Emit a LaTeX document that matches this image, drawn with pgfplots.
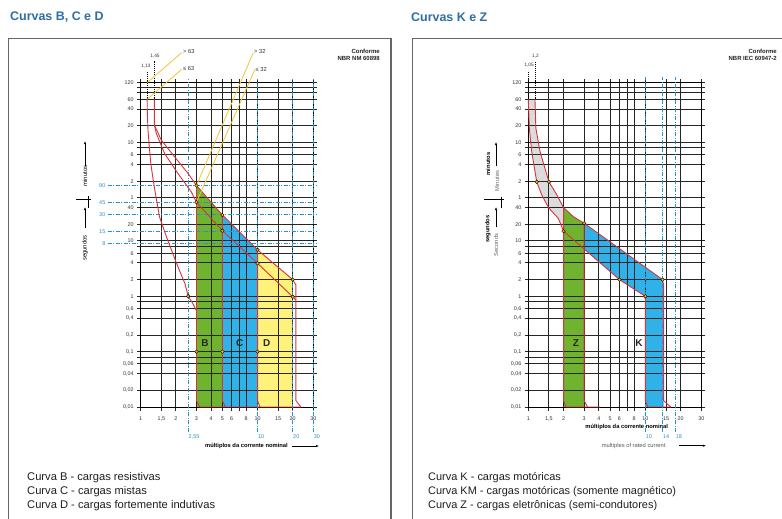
\documentclass[border=0pt]{standalone}
\usepackage{pgfplots}
\pgfplotsset{compat=1.18}
\usepackage{fontspec}
\setmainfont{Liberation Sans}
\usetikzlibrary{arrows.meta}
\definecolor{titleblue}{HTML}{2F6EA6}
\definecolor{gB}{HTML}{6FB32F}
\definecolor{bC}{HTML}{30B2E8}
\definecolor{yD}{HTML}{FFF27A}
\definecolor{redl}{HTML}{D8343C}
\definecolor{dotc}{HTML}{F5B50F}
\definecolor{ylabc}{HTML}{F2C53A}
\definecolor{dashblue}{HTML}{2A90D4}
\definecolor{bandgray}{HTML}{DCDCDC}
\definecolor{txt}{HTML}{333333}
\begin{document}
\begin{tikzpicture}
\path[use as bounding box] (0,0) rectangle (782bp,-519bp);
\fill[white] (0,0) rectangle (782bp,-519bp);
% panel frames
\draw[black!60, line width=1.2bp] (8.5bp,-519bp) -- (8.5bp,-38.5bp) -- (391bp,-38.5bp) -- (391bp,-519bp);
\draw[black!60, line width=1.2bp] (412.5bp,-519bp) -- (412.5bp,-38.5bp) -- (790bp,-38.5bp);
% titles
\node[anchor=west, inner sep=0, font=\bfseries\fontsize{12.5}{14}\selectfont, text=titleblue] at (10bp,-17.5bp) {Curvas B, C e D};
\node[anchor=west, inner sep=0, font=\bfseries\fontsize{12.5}{14}\selectfont, text=titleblue] at (411bp,-17.5bp) {Curvas K e Z};
% conforme
\node[anchor=east, inner sep=0, font=\bfseries\fontsize{6}{7}\selectfont, text=black!85] at (380bp,-51.5bp) {Conforme};
\node[anchor=east, inner sep=0, font=\bfseries\fontsize{6}{7}\selectfont, text=black!85] at (380bp,-58.5bp) {NBR NM 60898};
\node[anchor=east, inner sep=0, font=\bfseries\fontsize{6}{7}\selectfont, text=black!85] at (777bp,-51.5bp) {Conforme};
\node[anchor=east, inner sep=0, font=\bfseries\fontsize{6}{7}\selectfont, text=black!85] at (777bp,-58.5bp) {NBR IEC 60947-2};
% legends
\node[anchor=west, inner sep=0, font=\fontsize{11.2}{12}\selectfont, text=black!88] at (27bp,-477.7bp) {Curva B - cargas resistivas};
\node[anchor=west, inner sep=0, font=\fontsize{11.2}{12}\selectfont, text=black!88] at (27bp,-491.5bp) {Curva C - cargas mistas};
\node[anchor=west, inner sep=0, font=\fontsize{11.2}{12}\selectfont, text=black!88] at (27bp,-505.5bp) {Curva D - cargas fortemente indutivas};
\node[anchor=west, inner sep=0, font=\fontsize{11}{12}\selectfont, text=black!88] at (428bp,-477.7bp) {Curva K - cargas motóricas};
\node[anchor=west, inner sep=0, font=\fontsize{11}{12}\selectfont, text=black!88] at (428bp,-491.5bp) {Curva KM - cargas motóricas (somente magnético)};
\node[anchor=west, inner sep=0, font=\fontsize{11}{12}\selectfont, text=black!88] at (428bp,-505.5bp) {Curva Z - cargas eletrônicas (semi-condutores)};
% small top labels
\node[inner sep=0, font=\fontsize{4.8}{5}\selectfont, text=txt] at (146bp,-66bp) {1,13};
\node[inner sep=0, font=\fontsize{4.8}{5}\selectfont, text=txt] at (155bp,-56bp) {1,45};
\node[inner sep=0, font=\fontsize{4.8}{5}\selectfont, text=txt] at (529bp,-65bp) {1,05};
\node[inner sep=0, font=\fontsize{4.8}{5}\selectfont, text=txt] at (535.5bp,-56bp) {1,2};
\node[anchor=west, inner sep=0, font=\fontsize{5.8}{6}\selectfont, text=txt] at (183bp,-51.7bp) {> 63};
\node[anchor=west, inner sep=0, font=\fontsize{5.8}{6}\selectfont, text=txt] at (183bp,-68.3bp) {≤ 63};
\node[anchor=west, inner sep=0, font=\fontsize{5.8}{6}\selectfont, text=txt] at (254bp,-51.7bp) {> 32};
\node[anchor=west, inner sep=0, font=\fontsize{5.8}{6}\selectfont, text=txt] at (255.5bp,-69.3bp) {≤ 32};
% y side labels left
\node[rotate=90, inner sep=0, font=\fontsize{6}{7}\selectfont] at (85bp,-176bp) {minutos};
\draw[-{Latex[length=3bp,width=2.2bp]}, line width=0.5bp] (85bp,-166bp) -- (85bp,-141bp);
\node[rotate=90, inner sep=0, font=\fontsize{6}{7}\selectfont] at (85bp,-248bp) {segundos};
\draw[-{Latex[length=3bp,width=2.2bp]}, line width=0.5bp] (85bp,-228bp) -- (85bp,-207bp);
\draw[line width=0.5bp] (76bp,-199.5bp) -- (91bp,-199.5bp);
\draw[line width=0.5bp] (88bp,-196bp) -- (88bp,-208bp);
% y side labels right
\node[rotate=90, inner sep=0, font=\bfseries\fontsize{5.8}{7}\selectfont] at (488bp,-164bp) {minutos};
\node[rotate=90, inner sep=0, font=\fontsize{5.8}{7}\selectfont, text=black!60] at (497bp,-181bp) {Minutes};
\draw[-{Latex[length=3bp,width=2.2bp]}, line width=0.5bp] (496bp,-166bp) -- (496bp,-142bp);
\node[rotate=90, inner sep=0, font=\bfseries\fontsize{5.8}{7}\selectfont] at (488bp,-229bp) {segundos};
\node[rotate=90, inner sep=0, font=\fontsize{5.8}{7}\selectfont, text=black!60] at (496bp,-245bp) {Seconds};
\draw[-{Latex[length=3bp,width=2.2bp]}, line width=0.5bp] (496bp,-227bp) -- (496bp,-207bp);
\draw[line width=0.5bp] (484bp,-199.5bp) -- (504bp,-199.5bp);
\draw[line width=0.5bp] (501.7bp,-196.5bp) -- (501.7bp,-208.3bp);
% x labels
\node[anchor=west, inner sep=0, font=\bfseries\fontsize{5.8}{7}\selectfont] at (205bp,-446bp) {múltiplos da corrente nominal};
\draw[-{Latex[length=3bp,width=2.2bp]}, line width=0.5bp] (292bp,-446bp) -- (319bp,-446bp);
\node[inner sep=0, font=\bfseries\fontsize{5.8}{7}\selectfont] at (626.7bp,-426.7bp) {múltiplos da corrente nominal};
\node[anchor=west, inner sep=0, font=\fontsize{5.8}{7}\selectfont, text=black!65] at (601.7bp,-445.7bp) {multiples of rated current};
\draw[-{Latex[length=3bp,width=2.2bp]}, line width=0.5bp] (679bp,-445.7bp) -- (706bp,-445.7bp);

% ================= LEFT: fills =================
\begin{axis}[scale only axis, width=172.6bp, height=324.3bp, xmode=log, ymode=log,
  xmin=1, xmax=30, ymin=0.01, ymax=7200, clip=false, hide axis,
  anchor=south west, at={(140.7bp,-407bp)}]
\addplot[fill=gB, draw=none] coordinates {(3,0.01)(3,100)(5,29.4)(5,0.01)(3,0.01)};
\addplot[fill=bC, draw=none] coordinates {(5,0.01)(5,29.4)(10,6.9)(10,0.01)(5,0.01)};
\addplot[fill=yD, draw=none] coordinates {(10,0.01)(10,6.9)(20,2)(20,0.01)(10,0.01)};
\end{axis}
% ================= LEFT: grid and curves =================
\begin{axis}[scale only axis, width=172.6bp, height=324.3bp, xmode=log, ymode=log,
  xmin=1, xmax=30, ymin=0.01, ymax=7200, clip=false,
  anchor=south west, at={(140.7bp,-407bp)},
  axis line style={black, line width=0.9bp},
  xtick={1,1.5,2,3,4,5,6,8,10,15,20,30},
  xticklabels={1,{1,5},2,3,4,5,6,8,10,15,20,30},
  ytick={0.01,0.02,0.04,0.06,0.1,0.2,0.4,0.6,1,2,4,6,10,20,40,60,120,240,360,600,1200,2400,3600,7200},
  yticklabels={{0,01},{0,02},{0,04},{0,06},{0,1},{0,2},{0,4},{0,6},1,2,4,6,10,20,40,1,2,4,6,10,20,40,60,120},
  minor xtick={}, minor ytick={},
  extra x ticks={7}, extra y ticks={0.08,0.8,8,480,4800,6000},
  extra x tick labels={}, extra y tick labels={},
  grid=major, major grid style={black!85, line width=0.9bp},
  major tick style={black!85, line width=0.9bp},
  tick align=outside, major tick length=3.5bp,
  tick label style={font=\fontsize{5.4}{6}\selectfont, text=txt},
  xticklabel style={yshift=-2.5bp}]
\addplot[dashblue, line width=0.8bp, no marks, dash pattern=on 4bp off 1.5bp on 1bp off 1.5bp] coordinates {(0.52,100)(32,100)};
\addplot[dashblue, line width=0.8bp, no marks, dash pattern=on 4bp off 1.5bp on 1bp off 1.5bp] coordinates {(0.52,49)(32,49)};
\addplot[dashblue, line width=0.8bp, no marks, dash pattern=on 4bp off 1.5bp on 1bp off 1.5bp] coordinates {(0.52,30)(32,30)};
\addplot[dashblue, line width=0.8bp, no marks, dash pattern=on 4bp off 1.5bp on 1bp off 1.5bp] coordinates {(0.52,15)(32,15)};
\addplot[dashblue, line width=0.8bp, no marks, dash pattern=on 4bp off 1.5bp on 1bp off 1.5bp] coordinates {(0.52,8.9)(32,8.9)};
\addplot[dashblue, line width=0.8bp, no marks, dash pattern=on 4bp off 1.5bp on 1bp off 1.5bp] coordinates {(2.55,0.0035)(2.55,8400)};
\addplot[dashblue, line width=0.8bp, no marks, dash pattern=on 4bp off 1.5bp on 1bp off 1.5bp] coordinates {(10,0.0035)(10,8400)};
\addplot[dashblue, line width=0.8bp, no marks, dash pattern=on 4bp off 1.5bp on 1bp off 1.5bp] coordinates {(20,0.0035)(20,8400)};
\addplot[dashblue, line width=0.8bp, no marks, dash pattern=on 4bp off 1.5bp on 1bp off 1.5bp] coordinates {(30,0.0035)(30,8400)};
\addplot[redl, line width=0.9bp, no marks] coordinates {(1.136,3600)(1.14,2000)(1.155,1000)(1.185,500)(1.22,250)(1.27,140)(1.32,83)(1.45,27)(1.67,11.5)(2.03,3.9)(2.39,1.7)(2.55,1)(2.75,0.78)(3,0.55)(3,0.013)(3.2,0.01)(23.5,0.01)};
\addplot[redl, line width=0.9bp, no marks] coordinates {(1.31,3600)(1.31,1240)(1.5,660)(1.95,330)(2.54,166)(3,100)(5,29.4)(10,6.9)(20,2)(21.3,1.6)(21.3,0.013)(23.5,0.01)};
\addplot[redl, line width=0.9bp, no marks] coordinates {(1.31,1240)(1.36,875)(1.6,380)(2.08,166)(2.71,77)(3,50)(5,15.3)(10,3.94)(20,0.98)(21.3,0.85)};
\addplot[redl, line width=0.9bp, no marks] coordinates {(3,100)(3,0.55)};
\addplot[redl, line width=0.9bp, no marks] coordinates {(5,29.4)(5,0.013)(5.3,0.01)};
\addplot[redl, line width=0.9bp, no marks] coordinates {(10,6.9)(10,0.013)(10.5,0.01)};
\addplot[black, densely dotted, line width=0.9bp, no marks] coordinates {(1.136,3600)(1.136,11200)};
\addplot[black, densely dotted, line width=0.9bp, no marks] coordinates {(1.31,3600)(1.31,18500)};
\addplot[ylabc, line width=0.8bp, no marks] coordinates {(2.24,25100)(1.136,7200)};
\addplot[ylabc, line width=0.8bp, no marks] coordinates {(2.24,12580)(1.136,3600)};
\addplot[ylabc, line width=0.8bp, no marks] coordinates {(9.19,25100)(3,100)};
\addplot[ylabc, line width=0.8bp, no marks] coordinates {(9.5,12580)(3,50)};
\addplot[only marks, mark=*, mark size=1.8bp, mark options={fill=dotc, draw=none}] coordinates {(2.55,1)(3,100)(3,50)(5,29.4)(5,15.3)(10,6.9)(10,3.94)(20,2)(20,0.98)(3,0.1)(5,0.1)(10,0.1)};
\node[font=\bfseries\fontsize{10}{12}\selectfont, text=black!85] at (axis cs:3.55,0.14) {B};
\node[font=\bfseries\fontsize{10}{12}\selectfont, text=black!85] at (axis cs:7.05,0.14) {C};
\node[font=\bfseries\fontsize{10}{12}\selectfont, text=black!85] at (axis cs:12,0.14) {D};
\node[anchor=east, inner sep=0.5bp, font=\fontsize{5.5}{6}\selectfont, text=dashblue] at (axis cs:0.505,100) {90};
\node[anchor=east, inner sep=0.5bp, font=\fontsize{5.5}{6}\selectfont, text=dashblue] at (axis cs:0.505,49) {45};
\node[anchor=east, inner sep=0.5bp, font=\fontsize{5.5}{6}\selectfont, text=dashblue] at (axis cs:0.505,30) {30};
\node[anchor=east, inner sep=0.5bp, font=\fontsize{5.5}{6}\selectfont, text=dashblue] at (axis cs:0.505,15) {15};
\node[anchor=east, inner sep=0.5bp, font=\fontsize{5.5}{6}\selectfont, text=dashblue] at (axis cs:0.505,8.9) {8};
\node[anchor=west, inner sep=0.3bp, font=\fontsize{5.5}{6}\selectfont, text=dashblue] at (axis cs:2.55,0.0029) {2,55};
\node[anchor=west, inner sep=0.3bp, font=\fontsize{5.5}{6}\selectfont, text=dashblue] at (axis cs:10,0.0029) {10};
\node[anchor=west, inner sep=0.3bp, font=\fontsize{5.5}{6}\selectfont, text=dashblue] at (axis cs:20,0.0029) {20};
\node[anchor=west, inner sep=0.3bp, font=\fontsize{5.5}{6}\selectfont, text=dashblue] at (axis cs:30,0.0029) {30};
\end{axis}

% ================= RIGHT: fills =================
\begin{axis}[scale only axis, width=173bp, height=324.3bp, xmode=log, ymode=log,
  xmin=1, xmax=30, ymin=0.01, ymax=7200, clip=false, hide axis,
  anchor=south west, at={(528.3bp,-407bp)}]
\addplot[fill=bandgray, draw=none] coordinates {(1.0,3600)(1.14,3600)(1.16,1090)(1.26,408)(1.5,117)(1.75,68)(2,40)(2,15)(1.8,25.7)(1.5,39)(1.3,68)(1.18,117)(1.07,408)(1.02,1090)(1.0,3600)};
\addplot[fill=gB, draw=none] coordinates {(2,0.01)(2,40)(2.42,27.5)(3,20.8)(3,0.01)(2,0.01)};
\addplot[fill=bC, draw=none] coordinates {(3,20.8)(14,2)(14.3,1.6)(14.3,0.01)(10,0.01)(10,1)(6,2)(3,7.1)(3,20.8)};
\end{axis}
% ================= RIGHT: grid and curves =================
\begin{axis}[scale only axis, width=173bp, height=324.3bp, xmode=log, ymode=log,
  xmin=1, xmax=30, ymin=0.01, ymax=7200, clip=false,
  anchor=south west, at={(528.3bp,-407bp)},
  axis line style={black, line width=0.9bp},
  xtick={1,1.5,2,3,4,5,6,8,10,15,20,30},
  xticklabels={1,{1,5},2,3,4,5,6,8,10,15,20,30},
  ytick={0.01,0.02,0.04,0.06,0.1,0.2,0.4,0.6,1,2,4,6,10,20,40,60,120,240,360,600,1200,2400,3600,7200},
  yticklabels={{0,01},{0,02},{0,04},{0,06},{0,1},{0,2},{0,4},{0,6},1,2,4,6,10,20,40,1,2,4,6,10,20,40,60,120},
  minor xtick={}, minor ytick={},
  extra x ticks={7}, extra y ticks={0.08,0.8,8,480,4800,6000},
  extra x tick labels={}, extra y tick labels={},
  grid=major, major grid style={black!85, line width=0.9bp},
  major tick style={black!85, line width=0.9bp},
  tick align=outside, major tick length=3.5bp,
  tick label style={font=\fontsize{5.4}{6}\selectfont, text=txt},
  xticklabel style={yshift=-2.5bp}]
\addplot[dashblue, line width=0.8bp, no marks, dash pattern=on 4bp off 1.5bp on 1bp off 1.5bp] coordinates {(10,0.0035)(10,9100)};
\addplot[dashblue, line width=0.8bp, no marks, dash pattern=on 4bp off 1.5bp on 1bp off 1.5bp] coordinates {(14,0.0035)(14,9100)};
\addplot[dashblue, line width=0.8bp, no marks, dash pattern=on 4bp off 1.5bp on 1bp off 1.5bp] coordinates {(18,0.0035)(18,9100)};
\addplot[redl, line width=0.9bp, no marks] coordinates {(1.14,3600)(1.16,1090)(1.26,408)(1.5,117)(1.75,68)(2,40)(2.42,27.5)(3,20.8)(14,2)(14.3,1.6)(14.3,0.013)(16.5,0.01)};
\addplot[redl, line width=0.9bp, no marks] coordinates {(1.0,3600)(1.02,1090)(1.07,408)(1.18,117)(1.3,68)(1.5,39)(1.8,25.7)(2,15)(6,2)(9.6,1.05)(10,0.9)(10,0.013)(10.5,0.01)(16.5,0.01)};
\addplot[redl, line width=0.9bp, no marks] coordinates {(2,40)(2,0.013)(2.1,0.01)(4.1,0.01)};
\addplot[redl, line width=0.9bp, no marks] coordinates {(3,20.8)(3,0.013)(3.2,0.01)};
\addplot[black, densely dotted, line width=0.9bp, no marks] coordinates {(1.005,3600)(1.005,11200)};
\addplot[black, densely dotted, line width=0.9bp, no marks] coordinates {(1.14,3600)(1.14,17100)};
\addplot[only marks, mark=*, mark size=1.8bp, mark options={fill=dotc, draw=none}] coordinates {(1.18,117)(1.5,117)(2,15)(3,20.8)(6,2)(10,1)(14,2)};
\node[font=\bfseries\fontsize{10}{12}\selectfont, text=black!85] at (axis cs:2.55,0.14) {Z};
\node[font=\bfseries\fontsize{10}{12}\selectfont, text=black!85] at (axis cs:8.8,0.14) {K};
\node[anchor=west, inner sep=0.3bp, font=\fontsize{5.5}{6}\selectfont, text=dashblue] at (axis cs:10,0.0029) {10};
\node[anchor=west, inner sep=0.3bp, font=\fontsize{5.5}{6}\selectfont, text=dashblue] at (axis cs:14,0.0029) {14};
\node[anchor=west, inner sep=0.3bp, font=\fontsize{5.5}{6}\selectfont, text=dashblue] at (axis cs:18,0.0029) {18};
\end{axis}
\end{tikzpicture}
\end{document}
